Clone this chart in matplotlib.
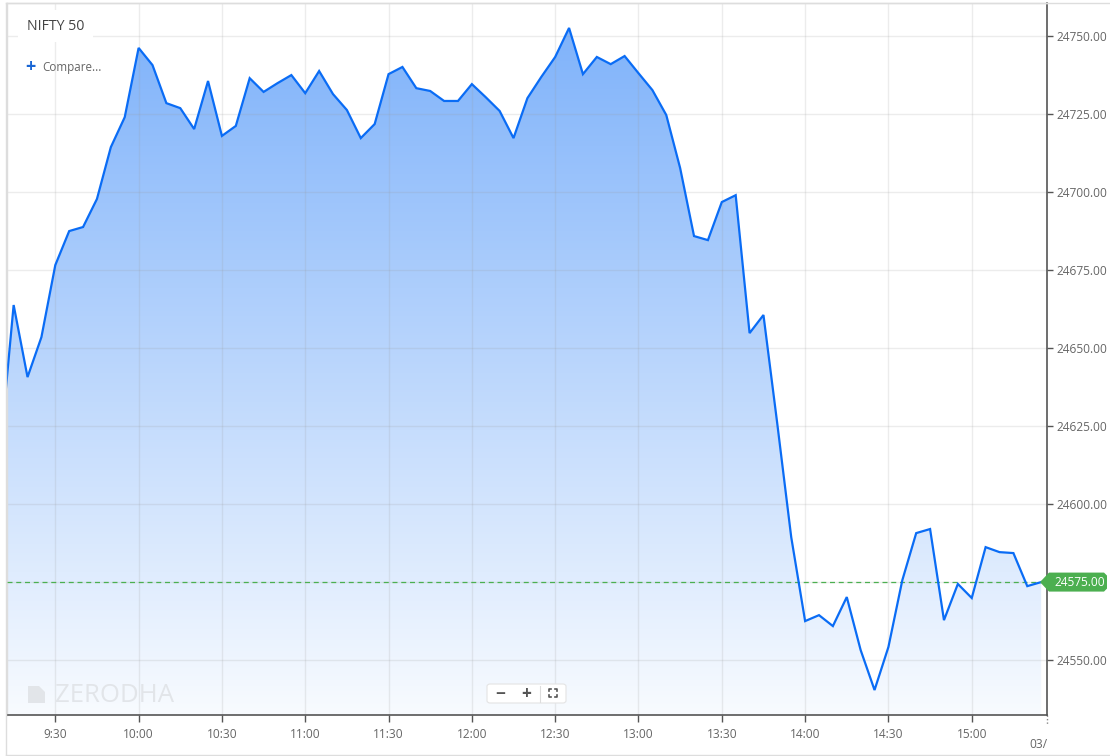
import matplotlib.pyplot as plt
import numpy as np
from matplotlib.patches import FancyBboxPatch, Polygon
from matplotlib.lines import Line2D
from matplotlib.colors import to_rgb
import matplotlib.transforms as mtransforms

plt.rcParams['font.family'] = ['Open Sans', 'DejaVu Sans']

# minutes after 9:00, one point every 5 minutes (9:10 .. 15:25)
minutes = list(range(10, 386, 5))
prices = [
    24615.7, 24663.8, 24640.7, 24653.5, 24676.6, 24687.5, 24688.8, 24697.8,
    24714.4, 24724.0, 24746.2, 24740.7, 24728.5, 24726.9, 24720.2, 24735.6,
    24718.0, 24721.2, 24736.5, 24732.1, 24734.9, 24737.5, 24731.7, 24738.8,
    24731.4, 24726.3, 24717.3, 24721.8, 24737.8, 24740.1, 24733.3, 24732.4,
    24729.2, 24729.2, 24734.6, 24730.4, 24726.0, 24717.3, 24730.1, 24736.9,
    24743.3, 24752.6, 24737.8, 24743.3, 24741.0, 24743.6, 24738.1, 24732.7,
    24724.7, 24707.7, 24685.9, 24684.6, 24696.8, 24699.0, 24654.8, 24660.6,
    24625.6, 24589.4, 24562.5, 24564.4, 24560.9, 24570.2, 24553.2, 24540.4,
    24554.2, 24575.6, 24590.7, 24592.0, 24562.8, 24574.4, 24569.9, 24586.2,
    24584.6, 24584.3, 24573.7, 24575.0,
]
tick_minutes = [30, 60, 90, 120, 150, 180, 210, 240, 270, 300, 330, 360]
tick_labels = ['9:30', '10:00', '10:30', '11:00', '11:30', '12:00',
               '12:30', '13:00', '13:30', '14:00', '14:30', '15:00']
price_ticks = [24550, 24575, 24600, 24625, 24650, 24675, 24700, 24725, 24750]
last_price = 24575.00

W, H = 1110, 756
fig = plt.figure(figsize=(W / 100, H / 100), dpi=100)
fig.patch.set_facecolor('white')


def px(x, y):
    """figure pixel (from top-left) -> figure fraction"""
    return x / W, 1 - y / H


ax = fig.add_axes([6.7 / W, 41 / H, (1047 - 6.7) / W, (715 - 3) / H])
x0, x1 = 12.5, 387.1
y0, y1 = 24532.4, 24760.6
ax.set_xlim(x0, x1)
ax.set_ylim(y0, y1)

# gradient fill under the line
top = np.array(to_rgb('#7bb0fa'))
bot = np.array(to_rgb('#f8fbff'))
t = np.linspace(0, 1, 300)[:, None]
grad = (top * (1 - t) + bot * t)[:, None, :]
fill = ax.fill_between(minutes, prices, y0, color='none', lw=0)
img = ax.imshow(grad, extent=[x0, x1, y0, y1], aspect='auto',
                origin='upper', zorder=1)
img.set_clip_path(fill.get_paths()[0], ax.transData)
ax.set_xlim(x0, x1)
ax.set_ylim(y0, y1)

# grid
for m in tick_minutes:
    ax.axvline(m, color='#9a9a9a', alpha=0.18, lw=1, zorder=2)
for p in price_ticks:
    ax.axhline(p, color='#9a9a9a', alpha=0.18, lw=1, zorder=2)

ax.plot(minutes, prices, color='#0a6cf5', lw=1.6, zorder=4,
        solid_joinstyle='miter')
ax.axhline(last_price, color='#4caf50', lw=0.9, ls=(0, (4, 3)), zorder=3)

# axes look; the last-price tag takes the place of its own tick label
ax.xaxis.tick_bottom()
ax.yaxis.tick_right()
ax.set_xticks(tick_minutes, tick_labels)
ax.set_yticks(price_ticks, ['' if p == last_price else f'{p:.2f}'
                            for p in price_ticks])
ax.tick_params(axis='x', length=5, width=1, color='#555555', pad=4,
               labelsize=8.6, labelcolor='#666666')
ax.tick_params(axis='y', length=4, width=1, color='#555555', pad=3,
               labelsize=8.6, labelcolor='#666666')
for s in ['bottom', 'right']:
    ax.spines[s].set_color('#555555')
    ax.spines[s].set_linewidth(1.2)
for s in ['left', 'top']:
    ax.spines[s].set_color('#dddddd')
    ax.spines[s].set_linewidth(1)

# last price tag (drawn in pixel space, anchored on the last price)
yp = ax.transData.transform((x0, last_price))[1]
tag = [(1040, yp), (1049, yp + 9.5), (1104, yp + 9.5), (1107, yp + 6.5),
       (1107, yp - 6.5), (1104, yp - 9.5), (1049, yp - 9.5)]
fig.add_artist(Polygon(tag, closed=True, fc='#4caf50', ec='none',
                       transform=mtransforms.IdentityTransform(), zorder=10))
fig.text(1054 / W, yp / H, f'{last_price:.2f}', ha='left', va='center',
         fontsize=8.6, color='white', zorder=11)

# next-day tick at the right edge
ax.add_line(Line2D([1, 1], [0, -0.014], transform=ax.transAxes,
                   color='#888888', lw=1, ls=(0, (1, 1.5)), clip_on=False))
ax.text(1.0, -0.042, '03/', transform=ax.transAxes, ha='right', va='center',
        fontsize=8.6, color='#666666', clip_on=False)

# outer frame
fig.add_artist(Line2D(*zip(px(6, 3), px(W, 3)), color='#dddddd', lw=1))
fig.add_artist(Line2D(*zip(px(6, 755), px(W, 755)), color='#dddddd', lw=1))
fig.add_artist(Line2D(*zip(px(6, 3), px(6, 755)), color='#dddddd', lw=1))

# title and compare
ax.text(20 / 1040, (715 - 26) / 712, 'NIFTY 50', transform=ax.transAxes,
        fontsize=10.2, color='#444444', va='center', ha='left', zorder=7,
        bbox=dict(boxstyle='square,pad=0.6', fc='white', ec='none'))
ax.text(18.5 / 1040, (715 - 67) / 712, '+', transform=ax.transAxes,
        fontsize=13, color='#1a66d4', va='center', ha='left', weight='bold',
        zorder=7)
ax.text(36 / 1040, (715 - 67) / 712, 'Compare...', transform=ax.transAxes,
        fontsize=8.4, color='#666666', va='center', ha='left', zorder=7)

# watermark
ax.text(48 / 1040, 0.027, 'ZERODHA', transform=ax.transAxes, fontsize=18.5,
        color='#e2e5e9', va='center', ha='left', zorder=2)
logo_x = [28, 39, 45, 45, 28]
logo_y = [686, 686, 692, 703, 703]
fig.add_artist(Polygon([px(a, b) for a, b in zip(logo_x, logo_y)],
                       closed=True, fc='#e2e5e9', ec='none'))

# zoom control
bx, by = px(487, 703)
box = FancyBboxPatch((bx, by), 79 / W, 19 / H, transform=fig.transFigure,
                     boxstyle='round,pad=0,rounding_size=0.003',
                     fc='white', ec='#e4e4e4', lw=0.8, zorder=8)
fig.add_artist(box)
fig.text(*px(500, 694), '\u2212', fontsize=12.5, color='#555555',
         ha='center', va='center', weight='bold', zorder=9)
fig.text(*px(526, 694), '+', fontsize=12.5, color='#555555',
         ha='center', va='center', weight='bold', zorder=9)
fig.add_artist(Line2D(*zip(px(540, 686), px(540, 702)), color='#dddddd',
                      lw=0.8, zorder=9))
for sx in (-1, 1):
    for sy in (-1, 1):
        cx, cy = 553 + sx * 4, 693 + sy * 4
        fig.add_artist(Line2D(*zip(px(cx - sx * 2, cy), px(cx, cy),
                                   px(cx, cy - sy * 2)),
                              color='#555555', lw=1.2, zorder=9))

fig.savefig('out.png', dpi=100)
